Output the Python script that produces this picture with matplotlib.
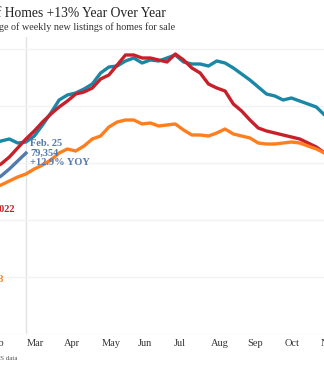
import matplotlib
matplotlib.use("Agg")
import matplotlib.pyplot as plt
import numpy as np

# weeks as day-of-year (week ending), Feb 25 = day 56
days = [28, 35, 42, 49, 56, 63, 70, 77, 84, 91, 98, 105, 112, 119, 126, 133, 140,
        147, 154, 161, 168, 175, 182, 189, 196, 203, 210, 217, 224, 231, 238, 245,
        252, 259, 266, 273, 280, 287, 294, 301, 308]

listings_2021 = [83330, 84650, 85530, 83770, 84210, 86840, 91670, 96930, 102630, 104830,
                 105700, 107460, 109650, 114470, 117100, 117540, 119740, 121050, 118860,
                 120180, 119740, 121050, 122370, 119300, 118420, 118420, 117540, 119740,
                 118860, 116670, 114040, 111400, 108330, 105260, 104390, 102630, 103510,
                 102190, 100880, 99560, 96050]
listings_2022 = [72810, 74560, 77630, 81580, 85530, 89040, 92980, 96490, 99560, 102190,
                 105260, 106140, 107900, 111840, 113600, 117980, 122370, 122370, 121050,
                 121050, 120180, 119300, 122810, 120180, 116670, 114470, 109650, 107900,
                 106580, 100880, 97810, 93860, 90350, 89040, 88160, 87280, 86400, 85530,
                 83770, 82020, 79390]
listings_2023 = [64040, 65350, 67110, 68860, 70180, 72370, 74120, 76320, 79390, 81140,
                 80260, 82460, 85530, 86840, 90790, 92980, 93860, 93860, 92110, 92540,
                 91230, 91670, 92110, 89470, 87280, 87280, 86840, 88160, 89910, 87720,
                 86840, 85970, 83770, 83330, 83330, 83770, 84210, 83770, 82460, 81140, 79390]
days_2024 = [28, 35, 42, 49, 56]
listings_2024 = [67110, 69300, 72370, 75880, 79354]

# where each month label starts (day of year)
month_pos = [25, 57, 88, 120, 150, 181, 212, 243, 274, 305]
month_labels = ["Feb", "Mar", "Apr", "May", "Jun", "Jul", "Aug", "Sep", "Oct", "Nov"]

c21 = "#1b87a6"
c22 = "#c8202b"
c23 = "#ff7f1f"
c24 = "#5479ad"

plt.rcParams["font.family"] = ["Liberation Serif", "DejaVu Serif"]

fig = plt.figure(figsize=(3.24, 3.71), dpi=100)
ax = fig.add_axes([0, 37 / 371, 1, 297 / 371])

ax.plot(days, listings_2021, color=c21, lw=2.4)
ax.plot(days, listings_2022, color=c22, lw=2.4)
ax.plot(days, listings_2023, color=c23, lw=2.4)
ax.plot(days_2024, listings_2024, color=c24, lw=2.4)

ax.set_yticks([0, 25000, 50000, 75000, 100000, 125000])
ax.yaxis.grid(True, color="#f2f2f2", lw=1)
ax.tick_params(axis="y", left=False, labelleft=False)
ax.set_xticks([])
ax.set_xlim(34.1, 307.5)
ax.set_ylim(0, 130260)
for s in ax.spines.values():
    s.set_visible(False)

# month labels drawn as text so partly cut labels at the edges still show
for pos, lab in zip(month_pos, month_labels):
    ax.annotate(lab, xy=(pos, 0), xycoords=("data", "axes fraction"),
                xytext=(0, -6.5), textcoords="offset points",
                ha="left", va="center", fontsize=7.5, color="#333333",
                annotation_clip=False)

ax.axvline(56, color="#e2e2e2", lw=1, zorder=0)

ax.text(59.5, 79354, "Feb. 25\n79,354\n+12.9% YOY", color=c24, fontsize=7.5,
        fontweight="bold", va="center", ha="left", linespacing=1.05)
ax.text(46.5, 54800, "2022", color=c22, fontsize=7.5, fontweight="bold",
        ha="right", va="center", clip_on=False)
ax.text(37.2, 24100, "2023", color=c23, fontsize=7.5, fontweight="bold",
        ha="right", va="center", clip_on=False)

fig.text(166 / 324, 1 - 13 / 371, "New Listings of Homes +13% Year Over Year",
         ha="right", va="center", fontsize=9.8, color="#222222")
fig.text(175 / 324, 1 - 27 / 371,
         "Four-week moving average of weekly new listings of homes for sale",
         ha="right", va="center", fontsize=7.3, color="#333333")
fig.text(17 / 324, 1 - 358 / 371, "Source: Redfin analysis of MLS data",
         ha="right", va="center", fontsize=5, color="#555555")

fig.savefig("out.png", dpi=100)
